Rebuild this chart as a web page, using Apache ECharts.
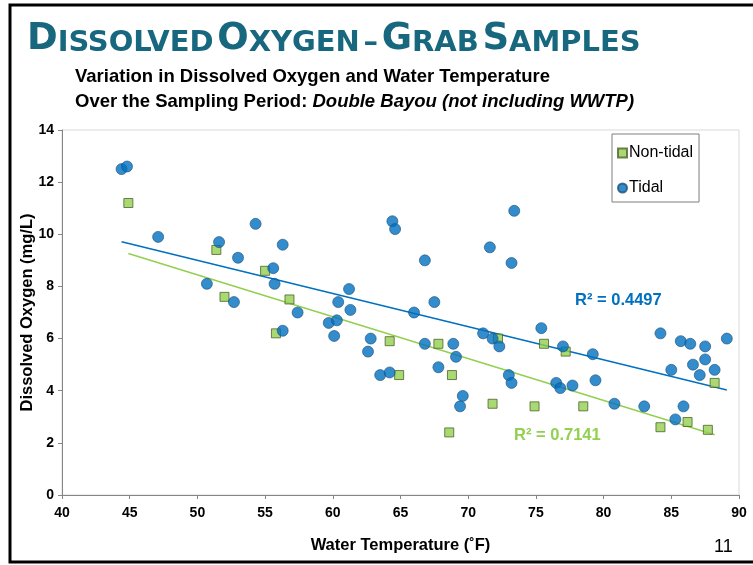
<!DOCTYPE html>
<html>
<head>
<meta charset="utf-8">
<script src="https://cdn.jsdelivr.net/npm/echarts@6/dist/echarts.min.js"></script>
<style>
  html, body { margin: 0; padding: 0; background: #fff; }
  #chart { width: 753px; height: 565px; }
</style>
</head>
<body>
<div id="chart"></div>
<script>
const nonTidalTemp = [44.9, 51.4, 55.0, 52.0, 56.8, 55.8, 64.2, 64.9, 67.8, 68.8, 68.6,
  72.2, 71.8, 74.9, 75.6, 77.2, 78.5, 84.2, 86.2, 87.7, 88.2]
const nonTidalDO = [11.2, 9.4, 8.6, 7.6, 7.5, 6.2, 5.9, 4.6, 5.8, 4.6, 2.4,
  6.0, 3.5, 3.4, 5.8, 5.5, 3.4, 2.6, 2.8, 2.5, 4.3]

const tidalTemp = [44.4, 44.8, 47.1, 51.6, 54.3, 53.0, 56.3, 55.6, 55.7, 50.7, 52.7, 57.4, 56.3,
  64.4, 64.6, 73.4, 71.6, 73.2, 66.8, 61.2, 60.4, 61.3, 67.5, 66.0, 59.7, 60.3, 60.1,
  62.8, 62.6, 63.5, 64.2, 66.8, 68.9, 69.1, 67.8, 69.6, 69.4, 71.1, 71.8, 72.3, 73.0,
  73.2, 75.4, 77.0, 79.2, 76.5, 76.8, 77.7, 79.4, 80.8, 83.0, 84.2, 85.7, 86.4, 87.5,
  89.1, 85.0, 86.6, 87.5, 87.1, 88.2, 85.9, 85.3]
const tidalDO = [12.5, 12.6, 9.9, 9.7, 10.4, 9.1, 9.6, 8.7, 8.1, 8.1, 7.4, 7.0, 6.3,
  10.5, 10.2, 10.9, 9.5, 8.9, 9.0, 7.9, 7.4, 7.1, 7.4, 7.0, 6.6, 6.7, 6.1,
  6.0, 5.5, 4.6, 4.7, 5.8, 5.8, 5.3, 4.9, 3.8, 3.4, 6.2, 6.0, 5.7, 4.6,
  4.3, 6.4, 5.7, 5.4, 4.3, 4.1, 4.2, 4.4, 3.5, 3.4, 6.2, 5.9, 5.8, 5.7,
  6.0, 4.8, 5.0, 5.2, 4.6, 4.8, 3.4, 2.9]

const rSquared = { tidal: '0.4497', nonTidal: '0.7141' }

const BLUE = '#0070C0'
const GREEN = '#92D050'
const FONT = 'Liberation Sans, Arial, sans-serif'
const TITLE_FONT = 'Liberation Sans Narrow, Arial Narrow, DejaVu Sans Condensed, sans-serif'

function pairs (xs, ys) {
  return xs.map((x, i) => [x, ys[i]])
}

// least squares line over the data range, like the excel trendline
function trend (xs, ys) {
  const n = xs.length
  const mx = xs.reduce((a, b) => a + b, 0) / n
  const my = ys.reduce((a, b) => a + b, 0) / n
  let sxy = 0
  let sxx = 0
  for (let i = 0; i < n; i++) {
    sxy += (xs[i] - mx) * (ys[i] - my)
    sxx += (xs[i] - mx) * (xs[i] - mx)
  }
  const k = sxy / sxx
  const b = my - k * mx
  const x0 = Math.min(...xs)
  const x1 = Math.max(...xs)
  return [[x0, k * x0 + b], [x1, k * x1 + b]]
}

const chart = echarts.init(document.getElementById('chart'))

chart.setOption({
  animation: false,
  textStyle: { fontFamily: FONT },
  grid: {
    left: 62,
    right: 14,
    top: 130,
    bottom: 70,
    show: true,
    borderColor: '#D9D9D9',
    borderWidth: 1
  },
  legend: {
    data: [
      { name: 'Non-tidal', icon: 'rect' },
      { name: 'Tidal', icon: 'circle' }
    ],
    orient: 'vertical',
    left: 612,
    top: 134,
    itemWidth: 9,
    itemHeight: 9,
    itemGap: 19,
    padding: [11, 6, 6, 5],
    borderColor: '#7F7F7F',
    borderWidth: 1,
    textStyle: { fontSize: 16, color: '#000', fontFamily: FONT, padding: [0, 0, 0, -3] }
  },
  xAxis: {
    type: 'value',
    min: 40,
    max: 90,
    interval: 5,
    name: 'Water Temperature (˚F)',
    nameLocation: 'middle',
    nameGap: 42,
    nameMoveOverlap: false,
    nameTextStyle: { fontWeight: 'bold', fontSize: 16.5, color: '#000' },
    axisLine: { show: true, lineStyle: { color: '#868686' } },
    axisTick: { show: true, length: 4, lineStyle: { color: '#868686' } },
    axisLabel: { fontWeight: 'bold', fontSize: 14, color: '#000', margin: 11 },
    splitLine: { show: false }
  },
  yAxis: {
    type: 'value',
    min: 0,
    max: 14,
    interval: 2,
    name: 'Dissolved Oxygen (mg/L)',
    nameLocation: 'middle',
    nameGap: 26,
    nameMoveOverlap: false,
    nameTextStyle: { fontWeight: 'bold', fontSize: 16.5, color: '#000' },
    axisLine: { show: true, lineStyle: { color: '#868686' } },
    axisTick: { show: true, length: 4, lineStyle: { color: '#868686' } },
    axisLabel: { fontWeight: 'bold', fontSize: 14, color: '#000', margin: 8 },
    splitLine: { show: false }
  },
  series: [
    {
      name: 'Tidal trend',
      type: 'line',
      data: trend(tidalTemp, tidalDO),
      symbol: 'none',
      lineStyle: { color: BLUE, width: 1.5 },
      silent: true,
      z: 1
    },
    {
      name: 'Non-tidal trend',
      type: 'line',
      data: trend(nonTidalTemp, nonTidalDO),
      symbol: 'none',
      lineStyle: { color: GREEN, width: 1.5 },
      silent: true,
      z: 1
    },
    {
      name: 'Non-tidal',
      type: 'scatter',
      symbol: 'rect',
      symbolSize: 9,
      data: pairs(nonTidalTemp, nonTidalDO),
      itemStyle: { color: GREEN, borderColor: '#4F6228', borderWidth: 1 },
      z: 3
    },
    {
      name: 'Tidal',
      type: 'scatter',
      symbol: 'circle',
      symbolSize: 11,
      data: pairs(tidalTemp, tidalDO),
      itemStyle: { color: BLUE, borderColor: '#1F4E79', borderWidth: 0.8 },
      z: 4
    }
  ],
  graphic: [
    {
      type: 'rect',
      shape: { x: 10, y: 5, width: 800, height: 557 },
      style: { fill: 'none', stroke: '#000', lineWidth: 3 },
      silent: true
    },
    {
      type: 'text',
      x: 27,
      y: 21,
      scaleX: 1.11,
      style: {
        text: '{b|D}{s|ISSOLVED} {b|O}{s|XYGEN} {s|–} {b|G}{s|RAB} {b|S}{s|AMPLES}',
        rich: {
          b: { fontSize: 37, fontWeight: 'bold', fill: '#17677F', fontFamily: TITLE_FONT, verticalAlign: 'bottom' },
          s: { fontSize: 29, fontWeight: 'bold', fill: '#17677F', fontFamily: TITLE_FONT, verticalAlign: 'bottom' }
        }
      }
    },
    {
      type: 'text',
      left: 75,
      top: 67,
      style: {
        text: 'Variation in Dissolved Oxygen and Water Temperature',
        font: 'bold 18.5px ' + FONT,
        fill: '#000'
      }
    },
    {
      type: 'text',
      left: 75,
      top: 92,
      style: {
        text: '{n|Over the Sampling Period: }{i|Double Bayou (not including WWTP)}',
        rich: {
          n: { fontSize: 18.5, fontWeight: 'bold', fill: '#000', fontFamily: FONT },
          i: { fontSize: 18.5, fontWeight: 'bold', fontStyle: 'italic', fill: '#000', fontFamily: FONT }
        }
      }
    },
    {
      type: 'text',
      left: 575,
      top: 292,
      style: { text: 'R² = ' + rSquared.tidal, font: 'bold 16.5px ' + FONT, fill: BLUE }
    },
    {
      type: 'text',
      left: 514,
      top: 427,
      style: { text: 'R² = ' + rSquared.nonTidal, font: 'bold 16.5px ' + FONT, fill: GREEN }
    },
    {
      type: 'text',
      left: 714,
      top: 538,
      style: { text: '11', font: '18px ' + FONT, fill: '#000' }
    }
  ]
})
</script>
</body>
</html>
